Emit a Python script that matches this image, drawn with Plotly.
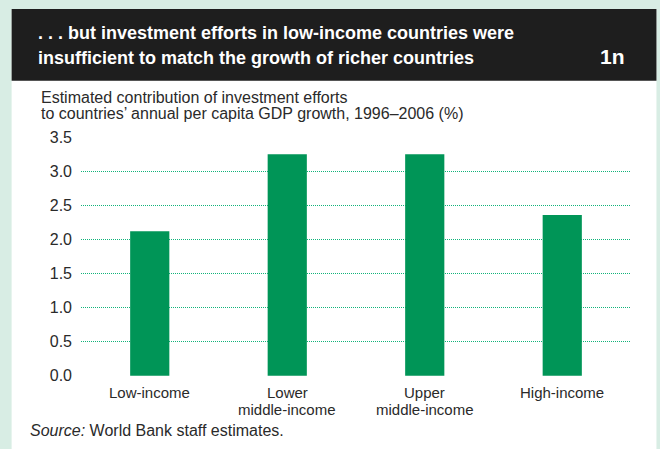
import plotly.graph_objects as go

# Data
categories = ["Low-income", "Lower<br>middle-income", "Upper<br>middle-income", "High-income"]
values = [2.12, 3.25, 3.25, 2.36]
y_ticks = [0.0, 0.5, 1.0, 1.5, 2.0, 2.5, 3.0, 3.5]
y_tick_labels = ["0.0", "0.5", "1.0", "1.5", "2.0", "2.5", "3.0", "3.5"]

title_lines = [
    ". . . but investment efforts in low-income countries were",
    "insufficient to match the growth of richer countries",
]
panel_id = "1n"
subtitle_lines = [
    "Estimated contribution of investment efforts",
    "to countries\u2019 annual per capita GDP growth, 1996\u20132006 (%)",
]
source_text = "<i>Source:</i> World Bank staff estimates."

# Canvas geometry (pixels)
FIG_W, FIG_H = 660, 449
L, R, T, B = 80.5, 28.5, 136.5, 72.7
PW = FIG_W - L - R
PH = FIG_H - T - B


def px(x):
    return (x - L) / PW


def py(y):
    return 1 - (y - T) / PH


MINT = "#d8ede4"
DARK = "#1e1e1e"
GREEN = "#009557"
GRID = "#12b37a"
TEXT = "#2a2a2a"
SANS = "Liberation Sans, Arial, sans-serif"

fig = go.Figure(
    go.Bar(
        x=list(range(len(categories))),
        y=values,
        marker=dict(color=GREEN, line=dict(width=0)),
        width=0.285,
        hoverinfo="skip",
    )
)

shapes = [
    # white card
    dict(type="rect", xref="paper", yref="paper", x0=px(11), x1=px(657), y0=py(8), y1=py(460),
         fillcolor="white", line=dict(width=0), layer="below"),
    # dark header band
    dict(type="rect", xref="paper", yref="paper", x0=px(11), x1=px(657), y0=py(8), y1=py(80),
         fillcolor=DARK, line=dict(width=0), layer="below"),
]

annotations = []
for i, line in enumerate(title_lines):
    annotations.append(dict(
        text=f"<b>{line}</b>", xref="paper", yref="paper", x=px(35), y=py(32 + 25 * i),
        xanchor="left", yanchor="middle", showarrow=False,
        font=dict(family=SANS, size=18, color="white"),
    ))
annotations.append(dict(
    text=f"<b>{panel_id}</b>", xref="paper", yref="paper", x=px(627), y=py(56),
    xanchor="right", yanchor="middle", showarrow=False,
    font=dict(family=SANS, size=21, color="white"),
))
for i, line in enumerate(subtitle_lines):
    annotations.append(dict(
        text=line, xref="paper", yref="paper", x=px(38), y=py(97 + 16 * i),
        xanchor="left", yanchor="middle", showarrow=False,
        font=dict(family=SANS, size=16, color=TEXT),
    ))

# Category labels under the bars, one annotation per text line
for i, cat in enumerate(categories):
    for k, part in enumerate(cat.split("<br>")):
        annotations.append(dict(
            text=part, xref="x", yref="paper", x=i, y=py(393 + 17 * k),
            xanchor="center", yanchor="middle", showarrow=False,
            font=dict(family=SANS, size=15, color=TEXT),
        ))

annotations.append(dict(
    text=source_text, xref="paper", yref="paper", x=px(27), y=py(431),
    xanchor="left", yanchor="middle", showarrow=False,
    font=dict(family=SANS, size=16, color=TEXT),
))

fig.update_layout(
    width=FIG_W,
    height=FIG_H,
    margin=dict(l=L, r=R, t=T, b=B, pad=0),
    paper_bgcolor=MINT,
    plot_bgcolor="rgba(0,0,0,0)",
    showlegend=False,
    shapes=shapes,
    annotations=annotations,
    xaxis=dict(
        range=[-0.5, len(categories) - 0.5],
        showticklabels=False,
        showgrid=False,
        zeroline=False,
        showline=False,
        ticks="",
        fixedrange=True,
    ),
    yaxis=dict(
        range=[-0.004, 3.504],
        tickmode="array",
        tickvals=y_ticks,
        ticktext=y_tick_labels,
        showgrid=True,
        gridcolor=GRID,
        griddash="1px,1px",
        gridwidth=1,
        zeroline=False,
        showline=False,
        ticks="",
        ticklabelstandoff=8,
        tickfont=dict(family=SANS, size=16, color=TEXT),
        fixedrange=True,
    ),
)

fig.write_html("out.html")
